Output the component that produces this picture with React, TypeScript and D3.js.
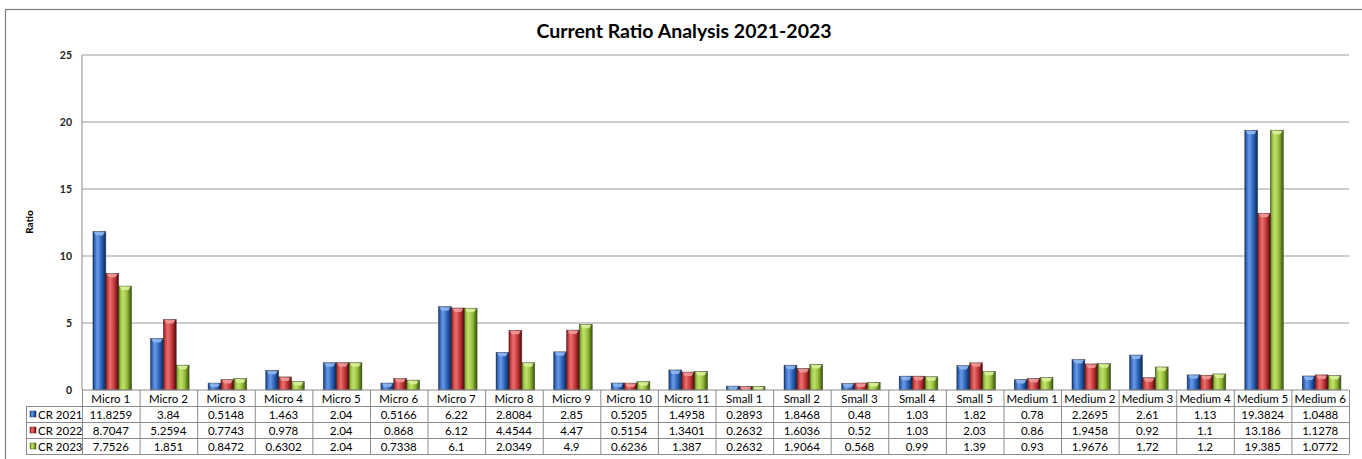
import React from "react";
import * as d3 from "d3";

const categories = [
  "Micro 1", "Micro 2", "Micro 3", "Micro 4", "Micro 5", "Micro 6", "Micro 7", "Micro 8", "Micro 9", "Micro 10", "Micro 11",
  "Small 1", "Small 2", "Small 3", "Small 4", "Small 5",
  "Medium 1", "Medium 2", "Medium 3", "Medium 4", "Medium 5", "Medium 6",
];
const cr2021 = [11.8259, 3.84, 0.5148, 1.463, 2.04, 0.5166, 6.22, 2.8084, 2.85, 0.5205, 1.4958, 0.2893, 1.8468, 0.48, 1.03, 1.82, 0.78, 2.2695, 2.61, 1.13, 19.3824, 1.0488];
const cr2022 = [8.7047, 5.2594, 0.7743, 0.978, 2.04, 0.868, 6.12, 4.4544, 4.47, 0.5154, 1.3401, 0.2632, 1.6036, 0.52, 1.03, 2.03, 0.86, 1.9458, 0.92, 1.1, 13.186, 1.1278];
const cr2023 = [7.7526, 1.851, 0.8472, 0.6302, 2.04, 0.7338, 6.1, 2.0349, 4.9, 0.6236, 1.387, 0.2632, 1.9064, 0.568, 0.99, 1.39, 0.93, 1.9676, 1.72, 1.2, 19.385, 1.0772];
const seriesNames = ["CR 2021", "CR 2022", "CR 2023"];
const yTicks = [0, 5, 10, 15, 20, 25];
const title = "Current Ratio Analysis 2021-2023";
const yLabel = "Ratio";

const seriesColors = [
  { base: "#2f66bd", light: "#6a9ae6", dark: "#14356e", cap: "#8fb6f0" },
  { base: "#c63a3a", light: "#ea7070", dark: "#6e1414", cap: "#f09a9a" },
  { base: "#95bf3a", light: "#c2e06e", dark: "#4d6a14", cap: "#d9f09a" },
];

const W = 1362, H = 459;
const L = 82, R = 1349, T = 55, B = 390;
const rowH = 16;
const FONT = "Lato, 'Open Sans', sans-serif";

export default function App() {
  const series = [cr2021, cr2022, cr2023];
  const x = d3.scaleBand<string>().domain(categories).range([L, R]).paddingInner(0).paddingOuter(0);
  const y = d3.scaleLinear().domain([0, 25]).range([B, T]);
  const bw = x.bandwidth();
  const sub = d3.scaleBand<number>().domain([0, 1, 2]).range([bw * 0.19, bw * 0.86]).padding(0);
  const sbw = sub.bandwidth();

  return (
    <svg width={W} height={H} style={{ position: "absolute", left: 0, top: 0, background: "#fff" }} fontFamily={FONT}>
      <defs>
        {seriesColors.map((c, i) => (
          <linearGradient key={i} id={`g${i}`} x1="0" x2="1" y1="0" y2="0">
            <stop offset="0%" stopColor={c.dark} />
            <stop offset="12%" stopColor={c.base} />
            <stop offset="35%" stopColor={c.light} />
            <stop offset="65%" stopColor={c.base} />
            <stop offset="92%" stopColor={c.dark} />
            <stop offset="100%" stopColor={c.dark} />
          </linearGradient>
        ))}
      </defs>
      <rect x={5.5} y={9.5} width={W} height={H} fill="#fff" stroke="#7f7f7f" strokeWidth={1.2} />
      <text x={684} y={38} textAnchor="middle" fontSize={19.5} fontWeight="bold" fill="#000">{title}</text>

      {/* gridlines */}
      {yTicks.map((t) => (
        <g key={t}>
          {t > 0 && <line x1={L} x2={R} y1={y(t)} y2={y(t)} stroke="#bdbdbd" strokeWidth={1.5} />}
          <text x={72} y={y(t) + 3.5} textAnchor="end" fontSize={10.5} fontWeight="bold" fill="#222">{t}</text>
        </g>
      ))}
      <line x1={L} x2={L} y1={T} y2={B} stroke="#8c8c8c" strokeWidth={1} />
      <text transform={`translate(33,${222}) rotate(-90)`} textAnchor="middle" fontSize={10} fontWeight="bold" fill="#000">{yLabel}</text>

      {/* bars */}
      {categories.map((cat, ci) => (
        <g key={cat}>
          {series.map((s, si) => {
            const bx = (x(cat) as number) + (sub(si) as number);
            const by = y(s[ci]);
            const h = B - by;
            const c = seriesColors[si];
            const capH = Math.min(4, h);
            return (
              <g key={si}>
                <rect x={bx} y={by} width={sbw} height={h} fill={`url(#g${si})`} stroke="#1a1a1a" strokeOpacity={0.6} strokeWidth={0.7} />
                <path
                  d={`M${bx + 1},${by + 0.5} L${bx + sbw - 1},${by + 0.5} L${bx + sbw - 3},${by + capH} L${bx + 3},${by + capH} Z`}
                  fill={c.cap}
                  opacity={0.9}
                />
              </g>
            );
          })}
        </g>
      ))}

      {/* axis line */}
      <line x1={L} x2={R} y1={B} y2={B} stroke="#8c8c8c" strokeWidth={1} />

      {/* data table */}
      <g stroke="#8c8c8c" strokeWidth={1} fill="none">
        {categories.map((cat) => (
          <line key={cat} x1={(x(cat) as number) + 0.5} x2={(x(cat) as number) + 0.5} y1={B} y2={B + rowH * 4} />
        ))}
        <line x1={R + 0.5} x2={R + 0.5} y1={B} y2={B + rowH * 4} />
        <line x1={26.5} x2={26.5} y1={B + rowH} y2={B + rowH * 4} />
        {[1, 2, 3, 4].map((r) => (
          <line key={r} x1={26} x2={R} y1={B + rowH * r + 0.5} y2={B + rowH * r + 0.5} />
        ))}
      </g>
      {categories.map((cat) => (
        <text key={cat} x={(x(cat) as number) + bw / 2} y={B + 12.5} textAnchor="middle" fontSize={11.5} fill="#000">{cat}</text>
      ))}
      {series.map((s, si) => (
        <g key={si}>
          <rect x={30} y={B + rowH * (si + 1) + 5} width={6} height={6} fill={`url(#g${si})`} stroke={seriesColors[si].dark} strokeWidth={0.5} />
          <text x={38} y={B + rowH * (si + 1) + 12.5} fontSize={11.5} fill="#000">{seriesNames[si]}</text>
          {s.map((v, ci) => (
            <text key={ci} x={(x(categories[ci]) as number) + bw / 2} y={B + rowH * (si + 1) + 12.5} textAnchor="middle" fontSize={11.5} fill="#000">{String(v)}</text>
          ))}
        </g>
      ))}
    </svg>
  );
}
